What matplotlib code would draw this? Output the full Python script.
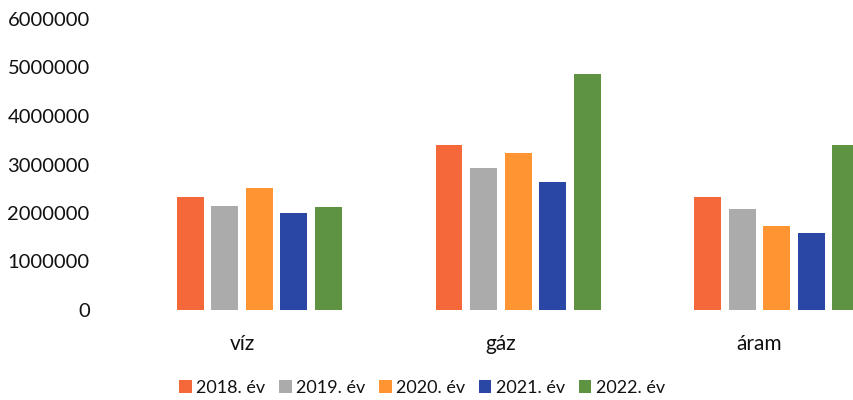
import matplotlib.pyplot as plt
import numpy as np

plt.rcParams['font.family'] = ['Lato', 'DejaVu Sans']

# data
categories = ['víz', 'gáz', 'áram']
years = ['2018. év', '2019. év', '2020. év', '2021. év', '2022. év']
values = {
    '2018. év': [2330000, 3400000, 2330000],
    '2019. év': [2140000, 2930000, 2080000],
    '2020. év': [2520000, 3240000, 1730000],
    '2021. év': [2000000, 2640000, 1590000],
    '2022. év': [2120000, 4870000, 3400000],
}
colors = ['#F4683A', '#ABABAB', '#FF9432', '#2A47A6', '#5E9441']

W, H = 854, 400
fig = plt.figure(figsize=(W / 100, H / 100), dpi=100)
# plot area runs past the right edge, like the cropped original
left_px, band_px = 130, 258.7
ax = fig.add_axes([left_px / W, 90 / H, 3 * band_px / W, 291 / H])

x = np.arange(len(categories))
step = 0.1334
width = 0.104
for i, (yr, c) in enumerate(zip(years, colors)):
    ax.bar(x + (i - 2) * step, values[yr], width, color=c, label=yr)

ax.set_xlim(-0.5, len(categories) - 0.5)
ax.set_ylim(0, 6000000)
ax.set_yticks(np.arange(0, 6000001, 1000000))
ax.set_yticklabels([str(v) for v in range(0, 6000001, 1000000)], fontsize=14.5)
# category labels sit a little left of the group centres
ax.set_xticks(x - step / 2)
ax.set_xticklabels(categories, fontsize=15)
ax.tick_params(axis='both', length=0, colors='#111111')
ax.tick_params(axis='x', pad=17)
ax.tick_params(axis='y', pad=29)
for s in ax.spines.values():
    s.set_visible(False)

fig.legend(loc='center', bbox_to_anchor=(0.5 * (W - 10) / W, 12 / H), ncol=5,
           frameon=False, fontsize=13, handlelength=0.7, handleheight=0.7,
           handletextpad=0.25, columnspacing=0.75, labelcolor='#111111')

fig.savefig('out.png', dpi=100)
